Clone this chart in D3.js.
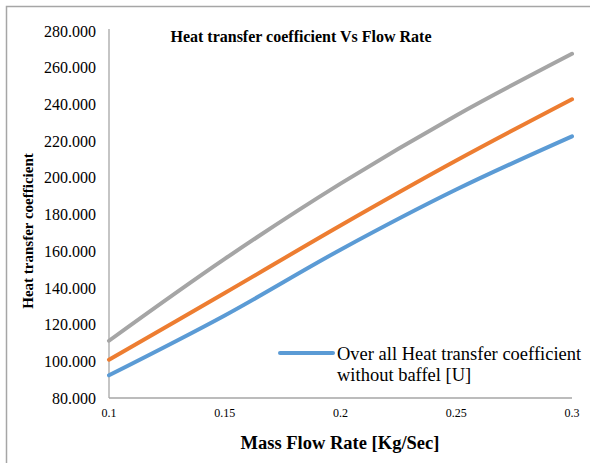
<!DOCTYPE html>
<html>
<head>
<meta charset="utf-8">
<script src="https://cdn.jsdelivr.net/npm/d3@7"></script>
<style>
  body { margin: 0; background: #fff; }
  text { font-family: "Liberation Serif", "Times New Roman", serif; fill: #000; }
</style>
</head>
<body>
<script>
// flow rate values (x) and the three series
var flowRate = [0.1, 0.15, 0.2, 0.25, 0.3];
var uWithoutBaffel = [92.4, 125.0, 160.8, 193.6, 222.6];
var seriesOrange = [100.9, 137.2, 174.0, 209.4, 242.8];
var seriesGray = [111.2, 155.8, 196.8, 234.0, 267.6];
var yTicks = [80, 100, 120, 140, 160, 180, 200, 220, 240, 260, 280];
var xTicks = [0.1, 0.15, 0.2, 0.25, 0.3];

var width = 590,
    height = 463;

var svg = d3.select("body").append("svg")
    .attr("width", width)
    .attr("height", height);

svg.append("rect")
    .attr("width", width).attr("height", height)
    .attr("fill", "#fff");

// chart border (only left and top show inside the frame)
svg.append("rect")
    .attr("x", 6.5).attr("y", 6.5)
    .attr("width", 620).attr("height", 500)
    .attr("fill", "none")
    .attr("stroke", "#a6a6a6")
    .attr("stroke-width", 1.5);

var x = d3.scaleLinear().domain([0.1, 0.3]).range([109, 572]);
var y = d3.scaleLinear().domain([80, 280]).range([398, 31]);

// axes lines
svg.append("line")
    .attr("x1", x(0.1)).attr("x2", x(0.1))
    .attr("y1", y(280) - 2).attr("y2", y(80))
    .attr("stroke", "#a6a6a6").attr("stroke-width", 1.3);
svg.append("line")
    .attr("x1", x(0.1)).attr("x2", x(0.3))
    .attr("y1", y(80)).attr("y2", y(80))
    .attr("stroke", "#a6a6a6").attr("stroke-width", 1.3);

svg.selectAll(".ytick")
    .data(yTicks)
    .enter().append("text")
    .attr("class", "ytick")
    .attr("x", 96)
    .attr("y", function(d) { return y(d); })
    .attr("dy", "0.35em")
    .attr("text-anchor", "end")
    .style("font-size", "16px")
    .text(d3.format(".3f"));

svg.selectAll(".xtick")
    .data(xTicks)
    .enter().append("text")
    .attr("class", "xtick")
    .attr("x", function(d) { return x(d); })
    .attr("y", 413)
    .attr("dy", "0.35em")
    .attr("text-anchor", "middle")
    .style("font-size", "12px")
    .text(function(d) { return String(+d.toFixed(2)); });

// smoothed line like the spreadsheet's
var line = d3.line()
    .x(function(d, i) { return x(flowRate[i]); })
    .y(function(d) { return y(d); })
    .curve(d3.curveCatmullRom);

var series = [
  {values: seriesGray, color: "#a5a5a5"},
  {values: seriesOrange, color: "#ed7d31"},
  {values: uWithoutBaffel, color: "#5b9bd5"}
];

svg.selectAll(".series")
    .data(series)
    .enter().append("path")
    .attr("class", "series")
    .attr("d", function(d) { return line(d.values); })
    .attr("fill", "none")
    .attr("stroke", function(d) { return d.color; })
    .attr("stroke-width", 4)
    .attr("stroke-linecap", "round")
    .attr("stroke-linejoin", "round");

// title
svg.append("text")
    .attr("x", 301).attr("y", 36)
    .attr("dy", "0.35em")
    .attr("text-anchor", "middle")
    .style("font-size", "16px")
    .style("font-weight", "bold")
    .text("Heat transfer coefficient Vs Flow Rate");

// axis titles
svg.append("text")
    .attr("x", 340).attr("y", 443)
    .attr("dy", "0.35em")
    .attr("text-anchor", "middle")
    .style("font-size", "18.5px")
    .style("font-weight", "bold")
    .text("Mass Flow Rate [Kg/Sec]");

svg.append("text")
    .attr("transform", "translate(28,231) rotate(-90)")
    .attr("dy", "0.35em")
    .attr("text-anchor", "middle")
    .style("font-size", "15px")
    .style("font-weight", "bold")
    .text("Heat transfer coefficient");

// legend (only the first entry is visible)
var legend = svg.append("g");
legend.append("line")
    .attr("x1", 280).attr("x2", 333)
    .attr("y1", 353).attr("y2", 353)
    .attr("stroke", "#5b9bd5")
    .attr("stroke-width", 4)
    .attr("stroke-linecap", "round");
legend.append("text")
    .attr("x", 337).attr("y", 354)
    .attr("dy", "0.35em")
    .style("font-size", "18.5px")
    .text("Over all Heat transfer coefficient");
legend.append("text")
    .attr("x", 337).attr("y", 375)
    .attr("dy", "0.35em")
    .style("font-size", "18.5px")
    .text("without baffel [U]");
</script>
</body>
</html>
